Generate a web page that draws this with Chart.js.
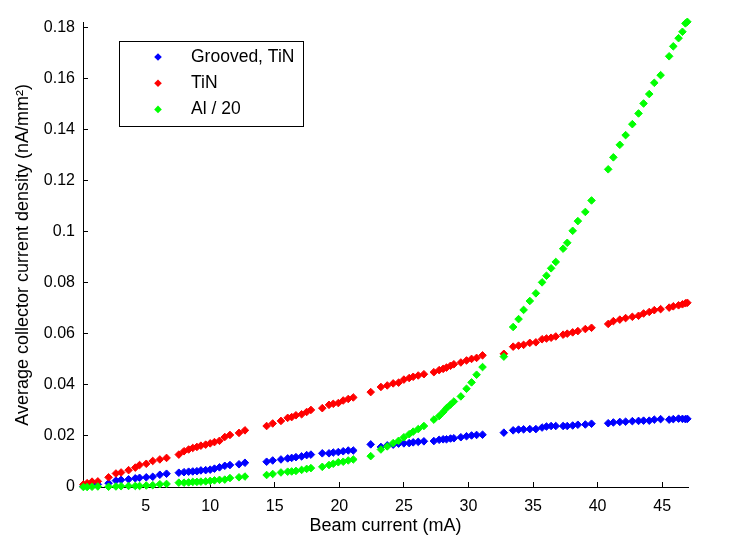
<!DOCTYPE html>
<html lang="en">
<head>
    <meta charset="UTF-8">
    <title>Collector current density</title>
    <style>
        body {
            margin: 0;
            padding: 0;
            background: #fff;
        }
        #wrap {
            width: 742px;
            height: 537px;
        }
    </style>
    <script src="https://cdn.jsdelivr.net/npm/chart.js@4.4.1/dist/chart.umd.min.js"></script>
</head>
<body>
<div id="wrap">
    <canvas id="chart" width="742" height="537"></canvas>
</div>
<script>
    // beam current (mA), shared by all three series
    const beamCurrent = [
        0.18, 0.47, 0.85, 1.3,
        2.13, 2.7, 3.1, 3.68, 4.2, 4.53, 5.05, 5.55, 6.1, 6.62,
        7.57, 7.97, 8.33, 8.65, 8.97, 9.28, 9.65, 10.0, 10.33, 10.72, 11.13, 11.53, 12.23, 12.69,
        14.37, 14.84, 15.48, 16.0, 16.31, 16.64, 17.08, 17.47, 17.8,
        18.68, 19.2, 19.53, 19.92, 20.3, 20.69, 21.08,
        22.43, 23.22, 23.71, 24.17, 24.59, 25.0, 25.41, 25.72, 26.11, 26.55, 27.32, 27.73, 28.04, 28.3, 28.61, 28.87, 29.41, 29.85, 30.24, 30.63, 31.09,
        32.74,
        33.46, 33.88, 34.27, 34.75, 35.22, 35.7, 36.04, 36.4, 36.76, 37.33, 37.65, 38.07, 38.47, 39.05, 39.53,
        40.82, 41.22, 41.72, 42.17, 42.69, 43.17, 43.56, 44.0, 44.39, 44.88, 45.54, 45.86, 46.27, 46.57, 46.8, 46.95
    ];

    const groovedTiN = [
        0.0003, 0.0005, 0.0008, 0.001,
        0.0015, 0.0025, 0.0028, 0.003, 0.0034, 0.0036, 0.0038, 0.004, 0.0048, 0.0052,
        0.0056, 0.0058, 0.006, 0.0061, 0.0062, 0.0065, 0.0066, 0.0068, 0.0072, 0.0077, 0.0083, 0.0086, 0.0089, 0.0095,
        0.0099, 0.0104, 0.0108, 0.0112, 0.0114, 0.0117, 0.012, 0.0125, 0.0127,
        0.0132, 0.0132, 0.0135, 0.0137, 0.014, 0.0143, 0.0143,
        0.0167, 0.0157, 0.0163, 0.0166, 0.017, 0.0171, 0.0172, 0.0175, 0.0177, 0.0179, 0.018, 0.0185, 0.0187, 0.0187, 0.019, 0.0191, 0.0195, 0.0199, 0.0202, 0.0204, 0.0205,
        0.0213,
        0.0222, 0.0225, 0.0226, 0.0227, 0.0227, 0.0233, 0.0237, 0.0239, 0.0239, 0.0239, 0.0239, 0.0241, 0.0244, 0.0245, 0.0248,
        0.025, 0.0253, 0.0255, 0.0256, 0.0258, 0.0259, 0.026, 0.026, 0.0264, 0.0266, 0.0264, 0.0266, 0.0268, 0.0267, 0.0266, 0.0267
    ];

    const tiN = [
        0.001, 0.0015, 0.0021, 0.0022,
        0.0038, 0.0053, 0.0057, 0.0066, 0.0076, 0.0086, 0.0091, 0.0102, 0.0108, 0.0114,
        0.0127, 0.014, 0.0147, 0.0153, 0.0157, 0.0162, 0.0166, 0.0171, 0.0176, 0.0181, 0.0196, 0.0204, 0.0212, 0.0222,
        0.0239, 0.0249, 0.0259, 0.0271, 0.0274, 0.0281, 0.0285, 0.0294, 0.0302,
        0.0309, 0.0322, 0.0326, 0.0329, 0.0339, 0.0345, 0.0351,
        0.0372, 0.0392, 0.0398, 0.0406, 0.0409, 0.0421, 0.0427, 0.0432, 0.0437, 0.0442, 0.045, 0.0458, 0.0463, 0.0468, 0.0475, 0.0481, 0.0488, 0.0496, 0.0502, 0.0506, 0.0516,
        0.0522,
        0.055, 0.0554, 0.0557, 0.0565, 0.0567, 0.0579, 0.0582, 0.0585, 0.059, 0.0597, 0.0601, 0.0606, 0.0611, 0.0619, 0.0624,
        0.0639, 0.065, 0.0656, 0.0662, 0.0667, 0.0671, 0.068, 0.0686, 0.0693, 0.0697, 0.0703, 0.0708, 0.0712, 0.0716, 0.072, 0.0722
    ];

    const alOver20 = [
        0, 0, 0.0001, 0.0002,
        0.0001, 0.0002, 0.0003, 0.0004, 0.0004, 0.0004, 0.0006, 0.0007, 0.0011, 0.0012,
        0.0017, 0.0017, 0.0018, 0.002, 0.002, 0.0021, 0.0022, 0.0024, 0.0026, 0.0028, 0.0029, 0.0035, 0.0038, 0.0041,
        0.0047, 0.0051, 0.0057, 0.006, 0.0061, 0.0063, 0.0067, 0.0071, 0.0074,
        0.0079, 0.0086, 0.0091, 0.0097, 0.0099, 0.0104, 0.0108,
        0.0121, 0.0147, 0.0159, 0.0172, 0.0181, 0.0195, 0.0207, 0.0217, 0.0227, 0.0239, 0.0264, 0.0278, 0.0294, 0.0309, 0.0323, 0.0335, 0.0355, 0.0385, 0.041, 0.044, 0.047,
        0.0511,
        0.0627, 0.0658, 0.0694, 0.0729, 0.0759, 0.0802, 0.0828, 0.0857, 0.0882, 0.0934, 0.0957, 0.1004, 0.1042, 0.1078, 0.1123,
        0.1245, 0.1292, 0.1341, 0.1379, 0.1422, 0.1464, 0.1503, 0.154, 0.1584, 0.1614, 0.1688, 0.1727, 0.1759, 0.1784, 0.1817, 0.1823
    ];

    const seriesLabels = ['Grooved, TiN', 'TiN', 'Al / 20'];
    const seriesColors = ['#0000ff', '#ff0000', '#00ff00'];

    const xTicks = [5, 10, 15, 20, 25, 30, 35, 40, 45];
    const yTicks = [0, 0.02, 0.04, 0.06, 0.08, 0.1, 0.12, 0.14, 0.16, 0.18];

    const FONT = '"Liberation Sans", Arial, Helvetica, sans-serif';

    function toPoints(ys) {
        return beamCurrent.map((x, i) => ({ x: x, y: ys[i] }));
    }

    function makeSet(idx, ys, order) {
        return {
            label: seriesLabels[idx],
            data: toPoints(ys),
            pointStyle: 'rectRot',
            pointRadius: 3.8,
            pointBorderWidth: 1,
            backgroundColor: seriesColors[idx],
            borderColor: seriesColors[idx],
            showLine: false,
            clip: false,
            order: order
        };
    }

    // matlab-ish legend box sitting inside the axes
    const boxLegend = {
        id: 'boxLegend',
        afterDatasetsDraw(chart) {
            const ctx = chart.ctx;
            ctx.save();
            ctx.fillStyle = '#fff';
            ctx.fillRect(119.5, 41.5, 184, 85);
            ctx.strokeStyle = '#000';
            ctx.lineWidth = 1;
            ctx.strokeRect(119.5, 41.5, 184, 85);
            ctx.font = '17.5px ' + FONT;
            ctx.textBaseline = 'middle';
            chart.data.datasets.forEach((ds, i) => {
                const y = 57 + i * 26.2;
                const r = 3.8;
                ctx.fillStyle = ds.backgroundColor;
                ctx.beginPath();
                ctx.moveTo(158, y - r);
                ctx.lineTo(158 + r, y);
                ctx.lineTo(158, y + r);
                ctx.lineTo(158 - r, y);
                ctx.closePath();
                ctx.fill();
                ctx.fillStyle = '#000';
                ctx.fillText(ds.label, 191, y);
            });
            ctx.restore();
        }
    };

    const config = {
        type: 'scatter',
        data: {
            datasets: [
                makeSet(0, groovedTiN, 3),
                makeSet(1, tiN, 2),
                makeSet(2, alOver20, 1)
            ]
        },
        options: {
            responsive: false,
            animation: false,
            devicePixelRatio: 1,
            layout: { padding: { left: 0, right: 54, top: 12, bottom: 0 } },
            plugins: {
                legend: { display: false },
                tooltip: { enabled: false }
            },
            scales: {
                x: {
                    type: 'linear',
                    min: 0.15,
                    max: 47,
                    afterFit: s => { s.height = 50; },
                    afterBuildTicks: s => { s.ticks = xTicks.map(v => ({ value: v })); },
                    grid: { drawOnChartArea: false, tickLength: -5, color: '#000', lineWidth: 1 },
                    border: { display: true, color: '#000', width: 1 },
                    ticks: {
                        color: '#000',
                        padding: 15,
                        maxRotation: 0,
                        font: { family: FONT, size: 16 },
                        callback: v => String(v)
                    },
                    title: {
                        display: true,
                        text: 'Beam current (mA)',
                        color: '#000',
                        font: { family: FONT, size: 18 },
                        padding: { top: 0, bottom: 0 }
                    }
                },
                y: {
                    type: 'linear',
                    min: 0,
                    max: 0.182,
                    afterFit: s => { s.width = 83; },
                    afterBuildTicks: s => { s.ticks = yTicks.map(v => ({ value: v })); },
                    grid: { drawOnChartArea: false, tickLength: -5, color: '#000', lineWidth: 1 },
                    border: { display: true, color: '#000', width: 1 },
                    ticks: {
                        color: '#000',
                        padding: 13,
                        font: { family: FONT, size: 16 },
                        callback: v => String(parseFloat(v.toFixed(2)))
                    },
                    title: {
                        display: true,
                        text: 'Average collector current density (nA/mm²)',
                        color: '#000',
                        font: { family: FONT, size: 18 },
                        padding: { top: 12, bottom: 0 }
                    }
                }
            }
        },
        plugins: [boxLegend]
    };

    new Chart(document.getElementById('chart'), config);
</script>
</body>
</html>
